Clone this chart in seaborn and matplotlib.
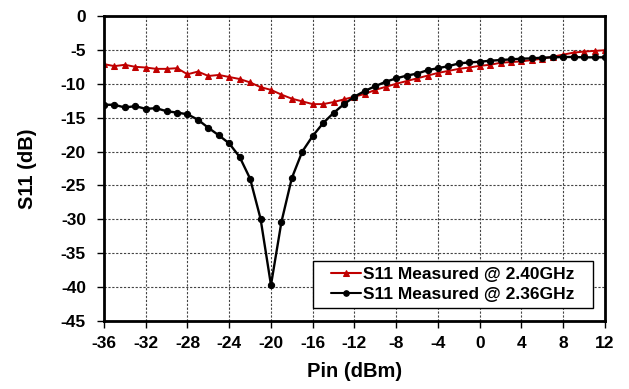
import pandas as pd
import matplotlib
matplotlib.use("Agg")
import matplotlib.pyplot as plt
from matplotlib.patches import Rectangle
import seaborn as sns

pin = list(range(-36, 13))

s11_240 = [-7.1, -7.4, -7.2, -7.5, -7.6, -7.8, -7.8, -7.7, -8.6, -8.2,
           -8.85, -8.7, -9.0, -9.3, -9.8, -10.5, -10.9, -11.6, -12.2, -12.6,
           -13.0, -13.0, -12.7, -12.3, -11.9, -11.5, -10.9, -10.45, -10.0, -9.6,
           -9.2, -8.8, -8.4, -8.1, -7.8, -7.6, -7.35, -7.2, -6.9, -6.8,
           -6.7, -6.5, -6.3, -6.0, -5.7, -5.4, -5.25, -5.15, -5.05]

s11_236 = [-13.1, -13.1, -13.5, -13.3, -13.7, -13.6, -14.05, -14.25, -14.5, -15.3,
           -16.5, -17.6, -18.8, -20.8, -24.0, -29.9, -39.7, -30.4, -23.9, -20.0,
           -17.7, -15.8, -14.3, -13.0, -11.9, -11.05, -10.35, -9.7, -9.2, -8.8,
           -8.5, -8.0, -7.7, -7.4, -7.0, -6.85, -6.75, -6.6, -6.5, -6.4,
           -6.3, -6.25, -6.15, -6.1, -6.05, -6.05, -6.1, -6.1, -6.1]

labels = ['S11 Measured @ 2.40GHz', 'S11 Measured @ 2.36GHz']

df = pd.DataFrame({'Pin': pin, 'f240': s11_240, 'f236': s11_236})

sns.set_style('white')
plt.rcParams['font.family'] = ['Liberation Sans', 'DejaVu Sans']
plt.rcParams['font.weight'] = 'bold'
plt.rcParams['axes.unicode_minus'] = False
plt.rcParams['text.color'] = 'black'
plt.rcParams['axes.labelcolor'] = 'black'
plt.rcParams['xtick.color'] = 'black'
plt.rcParams['ytick.color'] = 'black'

fig = plt.figure(figsize=(6.29, 3.89), dpi=100)
ax = fig.add_axes([0.1653, 0.1748, 0.7965, 0.7841])

sns.lineplot(data=df, x='Pin', y='f240', ax=ax, color='#C00000', marker='^',
             markersize=5, markeredgecolor='#C00000', linewidth=1.4, label=labels[0])
sns.lineplot(data=df, x='Pin', y='f236', ax=ax, color='black', marker='o',
             markersize=4.5, markeredgecolor='black', linewidth=1.7, label=labels[1])

ax.set_xlim(-36, 12)
ax.set_ylim(-45, 0)
ax.set_xticks(range(-36, 13, 4))
ax.set_yticks(range(-45, 1, 5))
ax.grid(True, color='#444444', linestyle=(0, (2, 1.5)), linewidth=0.8)
for sp in ax.spines.values():
    sp.set_visible(True)
    sp.set_color('black')
    sp.set_linewidth(2)
ax.tick_params(axis='both', direction='out', length=5, width=1, color='black',
               labelsize=12.5, labelcolor='black', bottom=True, left=True)
ax.tick_params(axis='x', pad=6)
ax.tick_params(axis='y', pad=8)
for t in ax.get_xticklabels() + ax.get_yticklabels():
    t.set_fontweight('bold')

ax.set_xlabel('Pin (dBm)', fontsize=14.5, fontweight='bold', labelpad=8)
ax.set_ylabel('S11 (dB)', fontsize=14.5, fontweight='bold', labelpad=17)

# legend box drawn separately so the entries sit centred in a wider frame
box_x, box_y, box_w, box_h = 0.4172, 0.0426, 0.559, 0.154
ax.add_patch(Rectangle((box_x, box_y), box_w, box_h, transform=ax.transAxes,
                       facecolor='white', edgecolor='black', linewidth=1, zorder=4))
leg = ax.legend(loc='center', bbox_to_anchor=(box_x + box_w / 2, box_y + box_h / 2),
                frameon=False, fontsize=12.5, handlelength=1.7, handletextpad=0.15,
                borderpad=0, labelspacing=0.25)
for t in leg.get_texts():
    t.set_fontweight('bold')
for h in leg.get_lines():
    h.set_markersize(4)
    h.set_linewidth(1.5)

fig.savefig('out.png', dpi=100)
